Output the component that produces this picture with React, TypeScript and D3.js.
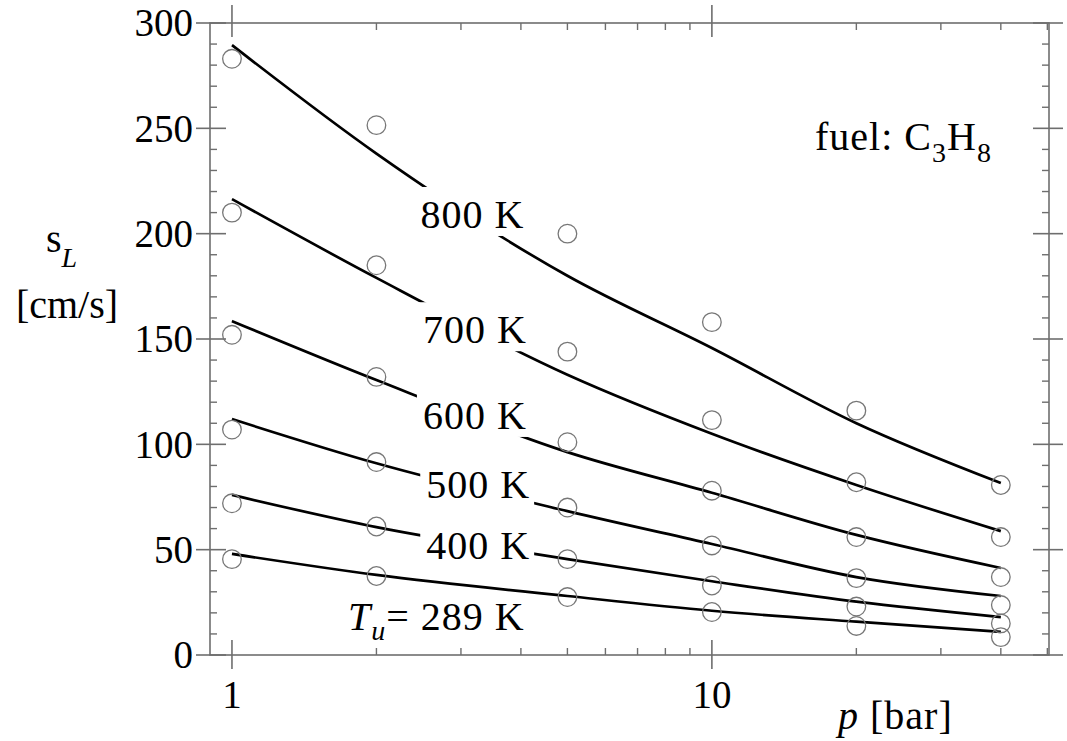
import React, { useEffect, useRef } from 'react';
import * as d3 from 'd3';

// pressures (bar) where both the computed curves and measured points sit
const pressures = [1, 2, 5, 10, 20, 40];

// computed flame speed s_L [cm/s], one array per unburnt temperature
const model800 = [289.5, 238, 180, 145.7, 110, 81.6];
const model700 = [216.4, 179, 133, 105, 80.7, 58.8];
const model600 = [158.5, 130.5, 96.3, 77, 57, 41.3];
const model500 = [112, 91, 68.3, 52.7, 37, 28];
const model400 = [76, 60.7, 45.5, 35, 25.3, 18];
const model289 = [48, 38, 28, 21, 15.8, 11];

// measured points (open circles)
const exp800 = [283, 251.5, 200, 158, 116, 80.7];
const exp700 = [210, 185, 144, 111.5, 82, 56];
const exp600 = [152, 132, 101, 78, 56, 37];
const exp500 = [107, 91.6, 70, 52, 36.5, 23.7];
const exp400 = [72, 61, 45.5, 33, 23, 15];
const exp289 = [45.5, 37.5, 27.5, 20.4, 13.8, 8.5];

const curves = [model800, model700, model600, model500, model400, model289];
const points = [exp800, exp700, exp600, exp500, exp400, exp289];

// curve labels, anchored in data units (p, s_L)
const labelText = ['800 K', '700 K', '600 K', '500 K', '400 K'];
const labelP = [2.47, 2.5, 2.5, 2.54, 2.54];
const labelS = [202.7, 148, 107.3, 74.5, 45.6];

const yTicks = [0, 50, 100, 150, 200, 250, 300];
const xTickLabels = [1, 10];

const W = 1067, H = 741;
const FONT = '"Liberation Serif", "Times New Roman", serif';

export default function App() {
    const svgRef = useRef<SVGSVGElement>(null);

    useEffect(() => {
        const svg = d3.select(svgRef.current);
        svg.selectAll('*').remove();

        const left = 210, right = 1049, top = 23, bottom = 655;
        const x = d3.scaleLog().domain([0.9, 50.4]).range([left, right]);
        const y = d3.scaleLinear().domain([0, 300]).range([bottom, top]);

        const axisColor = '#6e6e6e';
        const g = svg.append('g').attr('font-family', FONT);

        // frame
        g.append('rect')
            .attr('x', left).attr('y', top)
            .attr('width', right - left).attr('height', bottom - top)
            .attr('fill', 'none').attr('stroke', axisColor).attr('stroke-width', 1.6);

        // y ticks (left and right)
        const minorY = d3.range(0, 301, 10).filter(v => v % 50 !== 0);
        yTicks.forEach(v => {
            g.append('line').attr('x1', left - 14).attr('x2', left + 16)
                .attr('y1', y(v)).attr('y2', y(v)).attr('stroke', axisColor).attr('stroke-width', 1.6);
            g.append('line').attr('x1', right - 16).attr('x2', right + 14)
                .attr('y1', y(v)).attr('y2', y(v)).attr('stroke', axisColor).attr('stroke-width', 1.6);
            g.append('text').attr('x', left - 17).attr('y', y(v))
                .attr('dy', '0.34em').attr('text-anchor', 'end')
                .attr('font-size', 39).text(v);
        });
        minorY.forEach(v => {
            g.append('line').attr('x1', left).attr('x2', left + 7)
                .attr('y1', y(v)).attr('y2', y(v)).attr('stroke', axisColor).attr('stroke-width', 1.4);
            g.append('line').attr('x1', right - 7).attr('x2', right)
                .attr('y1', y(v)).attr('y2', y(v)).attr('stroke', axisColor).attr('stroke-width', 1.4);
        });

        // x ticks (log)
        const [d0, d1] = x.domain();
        const minorX = [2, 3, 4, 5, 6, 7, 8, 9, 20, 30, 40, 50].filter(v => v >= d0 && v <= d1);
        xTickLabels.forEach(v => {
            g.append('line').attr('x1', x(v)).attr('x2', x(v))
                .attr('y1', bottom - 15).attr('y2', bottom + 14).attr('stroke', axisColor).attr('stroke-width', 1.6);
            g.append('line').attr('x1', x(v)).attr('x2', x(v))
                .attr('y1', top - 18).attr('y2', top + 14).attr('stroke', axisColor).attr('stroke-width', 1.6);
            g.append('text').attr('x', x(v)).attr('y', 708)
                .attr('text-anchor', 'middle').attr('font-size', 39).text(v);
        });
        minorX.forEach(v => {
            g.append('line').attr('x1', x(v)).attr('x2', x(v))
                .attr('y1', bottom - 7).attr('y2', bottom).attr('stroke', axisColor).attr('stroke-width', 1.4);
            g.append('line').attr('x1', x(v)).attr('x2', x(v))
                .attr('y1', top).attr('y2', top + 7).attr('stroke', axisColor).attr('stroke-width', 1.4);
        });

        // computed curves
        const line = d3.line<number>()
            .x((_, i) => x(pressures[i]))
            .y(d => y(d))
            .curve(d3.curveMonotoneX);
        curves.forEach(c => {
            g.append('path').attr('d', line(c))
                .attr('fill', 'none').attr('stroke', '#000').attr('stroke-width', 2.7)
                .attr('stroke-linejoin', 'round');
        });

        // curve labels with white backing so the curve breaks around them
        labelText.forEach((t, i) => {
            const lg = g.append('g');
            const txt = lg.append('text')
                .attr('x', x(labelP[i])).attr('y', y(labelS[i]))
                .attr('font-size', 40).attr('letter-spacing', 1).text(t);
            const bb = (txt.node() as SVGTextElement).getBBox();
            lg.insert('rect', 'text')
                .attr('x', bb.x - 6).attr('y', bb.y - 5)
                .attr('width', bb.width + 10).attr('height', bb.height + 4)
                .attr('fill', '#fff');
        });

        // T_u = 289 K label (no backing, curve passes above)
        const tu = g.append('text').attr('x', x(1.745)).attr('y', y(11.9))
            .attr('font-size', 40).attr('letter-spacing', 1);
        tu.append('tspan').attr('font-style', 'italic').text('T');
        tu.append('tspan').attr('font-style', 'italic').attr('font-size', 28).attr('dy', 10).text('u');
        tu.append('tspan').attr('dy', -10).text('= 289 K');

        // measured points
        points.forEach(pts => {
            g.selectAll(null).data(pts).enter().append('circle')
                .attr('cx', (_, i) => x(pressures[i]))
                .attr('cy', d => y(d))
                .attr('r', 9.3)
                .attr('fill', 'none').attr('stroke', '#777').attr('stroke-width', 1.3);
        });

        // fuel annotation
        const fuel = g.append('text').attr('x', 815).attr('y', 150)
            .attr('font-size', 40).attr('letter-spacing', 1);
        fuel.append('tspan').text('fuel: C');
        fuel.append('tspan').attr('font-size', 28).attr('dy', 12).text('3');
        fuel.append('tspan').attr('dy', -12).text('H');
        fuel.append('tspan').attr('font-size', 28).attr('dy', 12).text('8');

        // axis titles
        const yl = g.append('text').attr('x', 46).attr('y', 252).attr('font-size', 40);
        yl.append('tspan').text('s');
        yl.append('tspan').attr('font-style', 'italic').attr('font-size', 28).attr('dy', 15).text('L');
        g.append('text').attr('x', 67).attr('y', 318).attr('text-anchor', 'middle')
            .attr('font-size', 40).text('[cm/s]');

        const xl = g.append('text').attr('x', 838).attr('y', 729)
            .attr('font-size', 40).attr('letter-spacing', 1);
        xl.append('tspan').attr('font-style', 'italic').text('p');
        xl.append('tspan').text(' [bar]');
    }, []);

    return (
        <svg ref={svgRef} width={W} height={H}
            style={{ position: 'absolute', left: 0, top: 0, background: '#fff' }} />
    );
}
